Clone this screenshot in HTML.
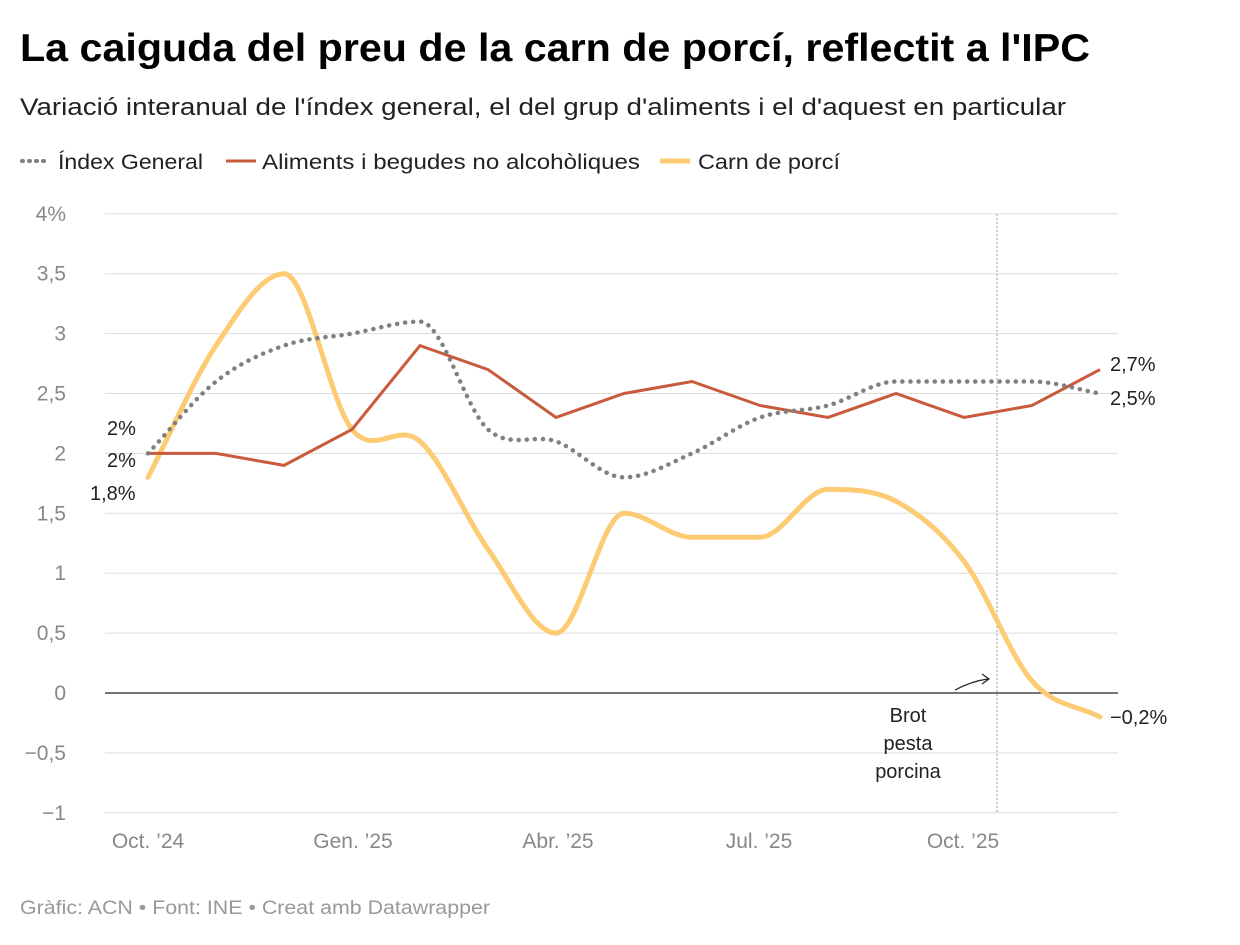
<!DOCTYPE html>
<html><head><meta charset="utf-8"><style>
body{margin:0;background:#fff;width:1240px;height:940px;overflow:hidden;font-family:"Liberation Sans",sans-serif}
</style></head><body>
<svg id="s" width="1240" height="940" xmlns="http://www.w3.org/2000/svg" font-family="Liberation Sans, sans-serif">
<text x="20" y="61" font-size="39" font-weight="bold" fill="#000" textLength="1070" lengthAdjust="spacingAndGlyphs">La caiguda del preu de la carn de porcí, reflectit a l'IPC</text>
<text x="20" y="115" font-size="24" fill="#222" textLength="1046" lengthAdjust="spacingAndGlyphs">Variació interanual de l'índex general, el del grup d'aliments i el d'aquest en particular</text>
<line x1="22" y1="161" x2="48" y2="161" stroke="#808080" stroke-width="4" stroke-dasharray="1,6" stroke-linecap="round"/>
<text x="58" y="169" font-size="21" fill="#222" textLength="145" lengthAdjust="spacingAndGlyphs">Índex General</text>
<line x1="226" y1="161" x2="256" y2="161" stroke="#c95a3c" stroke-width="3"/>
<text x="262" y="169" font-size="21" fill="#222" textLength="378" lengthAdjust="spacingAndGlyphs">Aliments i begudes no alcohòliques</text>
<line x1="660" y1="161" x2="690" y2="161" stroke="#fccb73" stroke-width="5"/>
<text x="698" y="169" font-size="21" fill="#222" textLength="142" lengthAdjust="spacingAndGlyphs">Carn de porcí</text>
<g id="grid"></g>
<line x1="997" y1="214" x2="997" y2="813" stroke="#999" stroke-width="1" stroke-dasharray="2,2"/>
<g id="lines"></g>
<g font-size="20" fill="#222">
<text x="107" y="435">2%</text><text x="107" y="467">2%</text><text x="90" y="500">1,8%</text>
<text x="1110" y="371">2,7%</text><text x="1110" y="405">2,5%</text><text x="1110" y="724">−0,2%</text>
<text x="908" y="722" text-anchor="middle">Brot</text><text x="908" y="750" text-anchor="middle">pesta</text><text x="908" y="778" text-anchor="middle">porcina</text>
</g>
<path d="M955 690 Q972 681 988 679" stroke="#222" fill="none" stroke-width="1.2"/>
<path d="M982 674 L989 679 L982 684" stroke="#222" fill="none" stroke-width="1.2"/>
<g font-size="21" fill="#888" text-anchor="middle">
<text x="148" y="848">Oct. ’24</text><text x="353" y="848">Gen. ’25</text><text x="558" y="848">Abr. ’25</text><text x="759" y="848">Jul. ’25</text><text x="963" y="848">Oct. ’25</text>
</g>
<text x="20" y="914" font-size="19" fill="#999" textLength="470" lengthAdjust="spacingAndGlyphs">Gràfic: ACN • Font: INE • Creat amb Datawrapper</text>
</svg>
<script>
var Y=v=>693-v*119.8, X=i=>148+i*68.0;
var g='',t=[4,3.5,3,2.5,2,1.5,1,0.5,0,-0.5,-1],lab=['4%','3,5','3','2,5','2','1,5','1','0,5','0','−0,5','−1'];
t.forEach((v,i)=>{var y=Y(v);g+='<line x1="105" x2="1118" y1="'+y+'" y2="'+y+'" stroke="'+(v==0?'#222':'#ddd')+'" stroke-width="'+(v==0?1.3:1)+'"/>';g+='<text x="66" y="'+(y+7)+'" font-size="21" fill="#888" text-anchor="end">'+lab[i]+'</text>';});
document.getElementById('grid').innerHTML=g;
function mono(d){var p=d.map((v,i)=>[X(i),Y(v)]),n=p.length,m=[],s=[];
for(var i=0;i<n-1;i++)s.push((p[i+1][1]-p[i][1])/(p[i+1][0]-p[i][0]));
m[0]=s[0];m[n-1]=s[n-2];for(i=1;i<n-1;i++)m[i]=(s[i-1]*s[i]<=0)?0:(s[i-1]+s[i])/2;
var r='M'+p[0];for(i=0;i<n-1;i++){var h=(p[i+1][0]-p[i][0])/3;r+=' C'+(p[i][0]+h)+','+(p[i][1]+m[i]*h)+' '+(p[i+1][0]-h)+','+(p[i+1][1]-m[i+1]*h)+' '+p[i+1];}return r;}
function lin(d){return 'M'+d.map((v,i)=>X(i)+','+Y(v)).join(' L');}
var red=[2,2,1.9,2.2,2.9,2.7,2.3,2.5,2.6,2.4,2.3,2.5,2.3,2.4,2.7];
var gr=[2,2.6,2.9,3.0,3.1,2.2,2.1,1.8,2.0,2.3,2.4,2.6,2.6,2.6,2.5];
var ye=[1.8,2.9,3.5,2.2,2.1,1.2,0.5,1.5,1.3,1.3,1.7,1.6,1.1,0.1,-0.2];
document.getElementById('lines').innerHTML=
'<path d="'+mono(ye)+'" stroke="#fccb73" stroke-width="5" fill="none" stroke-linecap="round"/>'+
'<path d="'+lin(red)+'" stroke="#c95a3c" stroke-width="3" fill="none"/>'+
'<path d="'+mono(gr)+'" stroke="#808080" stroke-width="4.5" fill="none" stroke-dasharray="0.1,8" stroke-linecap="round"/>';
</script>
</body></html>
